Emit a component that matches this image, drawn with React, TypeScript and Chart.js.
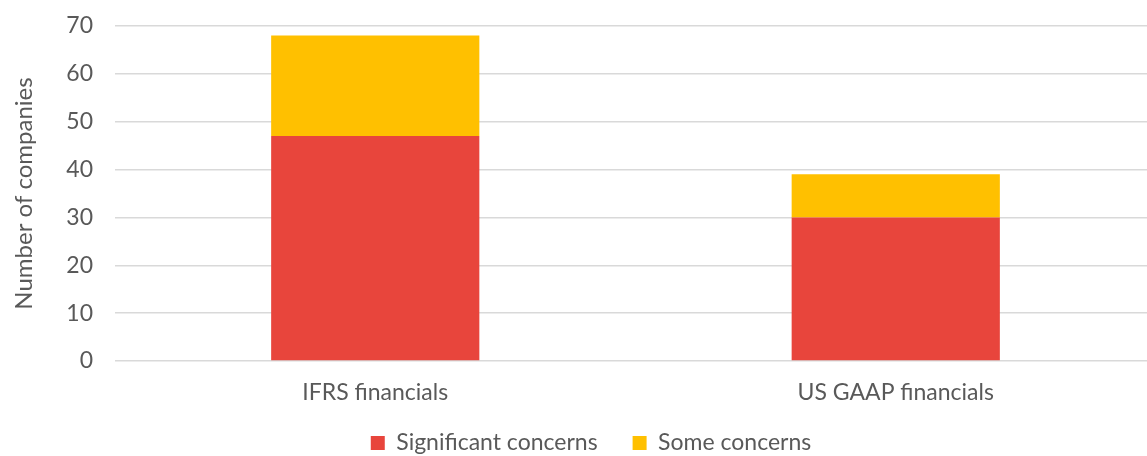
import React, { useEffect, useRef } from "react";
import { Chart, registerables } from "chart.js";

Chart.register(...registerables);

const categories = ["IFRS financials", "US GAAP financials"];
const significantConcerns = [47, 30];
const someConcerns = [21, 9];
const yTicks = [0, 10, 20, 30, 40, 50, 60, 70];

const LEGEND_HEIGHT = 49;
const LEGEND_ITEM_CENTER = 443;
const LEGEND_PADDING = 35;
const LEGEND_FONT = 23;
const LEGEND_SHIFT_X = 8;

export default function App() {
  const ref = useRef<HTMLCanvasElement | null>(null);

  useEffect(() => {
    document.body.style.margin = "0";
    document.body.style.overflow = "hidden";
    const font = "Lato, 'Open Sans', sans-serif";
    const legendPlacer = {
      id: "legendPlacer",
      afterLayout(chart: any) {
        const lg = chart.legend;
        if (!lg) return;
        const top = LEGEND_ITEM_CENTER - LEGEND_FONT / 2 - LEGEND_PADDING;
        lg.top = top;
        lg.bottom = chart.height;
        lg.left += LEGEND_SHIFT_X;
        lg.right += LEGEND_SHIFT_X;
      },
    };
    const chart = new Chart(ref.current!, {
      type: "bar",
      data: {
        labels: categories,
        datasets: [
          {
            label: "Significant concerns",
            data: significantConcerns,
            backgroundColor: "#E8453C",
            categoryPercentage: 1,
            barPercentage: 0.4,
          },
          {
            label: "Some concerns",
            data: someConcerns,
            backgroundColor: "#FFC000",
            categoryPercentage: 1,
            barPercentage: 0.4,
          },
        ],
      },
      options: {
        animation: false,
        responsive: false,
        maintainAspectRatio: false,
        layout: { padding: { top: 26, left: 10, right: 4, bottom: 0 } },
        scales: {
          x: {
            stacked: true,
            grid: { display: false, drawTicks: false },
            border: { display: false },
            ticks: { color: "#595959", font: { family: font, size: 23 }, padding: 18 },
            afterFit: (scale: any) => {
              scale.height = 46;
            },
          },
          y: {
            stacked: true,
            min: 0,
            max: 70,
            afterBuildTicks: (axis: any) => {
              axis.ticks = yTicks.map((v) => ({ value: v }));
            },
            afterFit: (scale: any) => {
              scale.width = 105;
            },
            grid: {
              color: "#D9D9D9",
              lineWidth: 1.5,
              drawTicks: true,
              tickLength: 22,
              tickColor: "rgba(0,0,0,0)",
            },
            border: { display: false },
            ticks: { color: "#595959", font: { family: font, size: 23 }, padding: 0 },
            title: {
              display: true,
              text: "Number of companies",
              color: "#595959",
              font: { family: font, size: 24 },
              padding: { top: 0, bottom: 6 },
            },
          },
        },
        plugins: {
          legend: {
            position: "bottom",
            labels: {
              color: "#595959",
              font: { family: font, size: LEGEND_FONT },
              boxWidth: 14,
              boxHeight: 14,
              padding: LEGEND_PADDING,
            },
          },
          tooltip: { enabled: false },
        },
      },
      plugins: [legendPlacer],
    });
    const lg: any = chart.legend;
    if (lg) {
      const origFit = lg.fit.bind(lg);
      lg.fit = function () {
        origFit();
        this.height = LEGEND_HEIGHT;
      };
      chart.update();
    }
    return () => chart.destroy();
  }, []);

  return (
    <div style={{ position: "absolute", left: 0, top: 0, width: 1160, height: 456 }}>
      <canvas ref={ref} width={1160} height={456} style={{ width: 1160, height: 456 }} />
    </div>
  );
}
